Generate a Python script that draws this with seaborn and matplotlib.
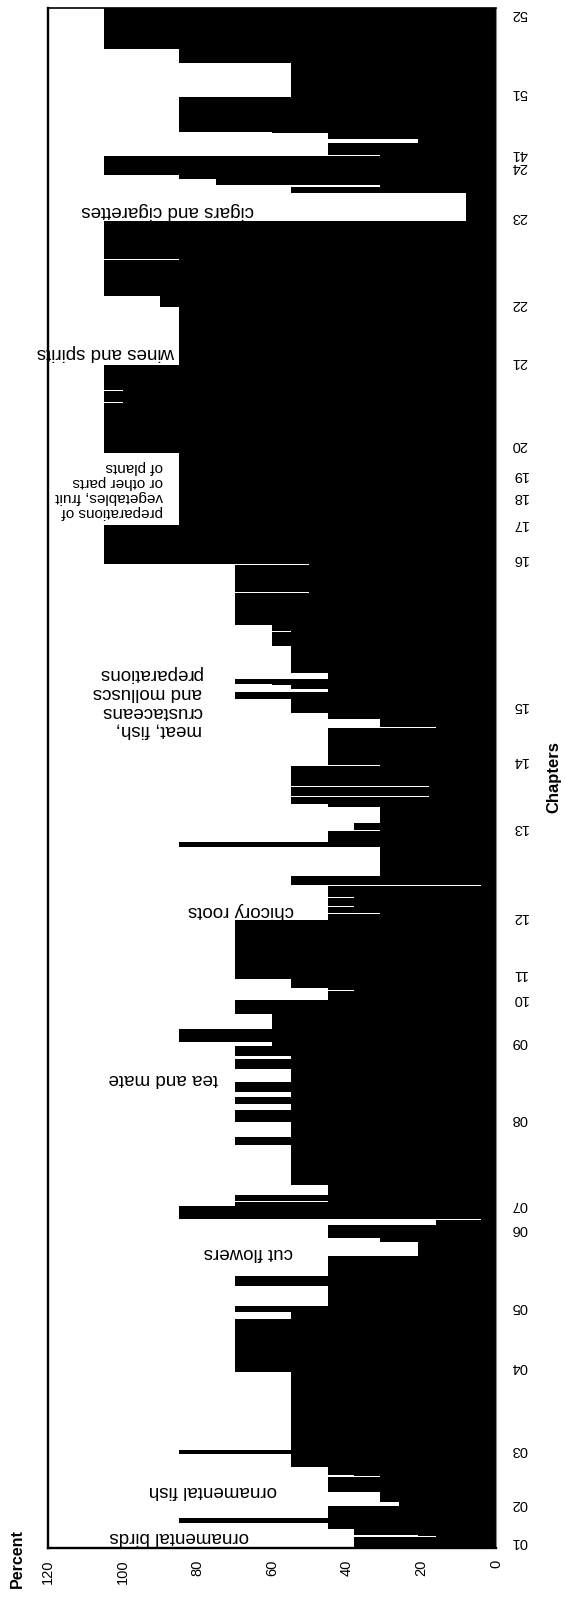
import matplotlib
matplotlib.use("Agg")
import matplotlib.pyplot as plt
import seaborn as sns
import pandas as pd

# tariff lines, bottom (chapter 01) to top (chapter 52): rate in percent, number of lines
seg_rate = [38, 16, 21, 38, 45, 85, 45, 26, 31, 45,
            31, 38, 45, 55, 85, 55, 70, 55, 70, 45,
            70, 45, 21, 31, 45, 16, 4, 85, 70, 45,
            70, 45, 55, 70, 55, 70, 55, 70, 55, 70,
            55, 70, 55, 70, 60, 85, 60, 70, 45, 38,
            45, 55, 70, 45, 31, 45, 38, 45, 38, 45,
            4, 55, 31, 85, 45, 31, 38, 31, 45, 55,
            18, 55, 18, 55, 31, 45, 16, 31, 45, 55,
            70, 45, 55, 60, 70, 45, 55, 60, 55, 60,
            70, 50, 70, 50, 105, 85, 105, 100, 105, 100,
            105, 85, 90, 105, 85, 105, 8, 55, 31, 75,
            85, 105, 31, 45, 21, 45, 60, 85, 55, 85,
            105]
seg_lines = [11, 1, 1, 6, 6, 5, 12, 4, 10, 15,
             1, 1, 8, 13, 4, 78, 53, 7, 6, 20,
             10, 20, 14, 4, 13, 5, 1, 13, 4, 1,
             6, 10, 40, 8, 15, 12, 6, 7, 5, 10,
             13, 10, 3, 10, 4, 13, 15, 14, 9, 1,
             2, 9, 59, 6, 1, 6, 1, 8, 1, 11,
             1, 9, 29, 5, 11, 1, 7, 16, 3, 7,
             1, 9, 1, 20, 1, 38, 1, 8, 6, 14,
             7, 3, 4, 1, 5, 6, 27, 14, 1, 6,
             32, 1, 27, 1, 39, 72, 50, 1, 11, 1,
             25, 58, 11, 36, 1, 38, 28, 6, 2, 6,
             4, 19, 1, 12, 4, 6, 1, 35, 34, 14,
             41]

chapters = ["01", "02", "03", "04", "05", "06", "07", "08", "09", "10",
            "11", "12", "13", "14", "15", "16", "17", "18", "19", "20",
            "21", "22", "23", "24", "41", "51", "52"]
chapter_pos = [7, 46, 100, 183, 243, 321, 345, 431, 508, 551,
               576, 633, 722, 789, 844, 991, 1026, 1053, 1075, 1105,
               1188, 1246, 1333, 1383, 1396, 1457, 1536]

notes = ["ornamental birds", "ornamental fish", "cut flowers", "tea and mate",
         "chicory roots", "wines and spirits", "cigars and cigarettes"]
note_rate = [84.9, 75.8, 66.4, 89.2, 68.3, 104.5, 87.9]
note_line = [11, 58, 296, 470, 638, 1196, 1338]

sns.set_style("white")
plt.rcParams["font.family"] = ["Liberation Sans", "DejaVu Sans"]
plt.rcParams["text.color"] = "black"
plt.rcParams["xtick.color"] = "black"
plt.rcParams["ytick.color"] = "black"
plt.rcParams["xtick.labelcolor"] = "black"
plt.rcParams["ytick.labelcolor"] = "black"

df = pd.DataFrame({"rate": seg_rate, "lines": seg_lines})
df["start"] = df["lines"].cumsum() - df["lines"]
total = df["lines"].sum()

fig = plt.figure(figsize=(5.66, 15.98), dpi=100)
ax = fig.add_axes([0.0848, 0.0313, 0.7915, 0.9637])

ax.barh(df["start"], df["rate"], height=df["lines"], align="edge",
        color="black", linewidth=0)

ax.set_xlim(120, 0)
ax.set_ylim(0, total)

# percent axis (bottom)
ax.set_xticks(range(0, 121, 10))
ax.set_xticklabels([str(v) if v % 20 == 0 else "" for v in range(0, 121, 10)],
                   rotation=90, fontsize=10.5, color="black")
ax.tick_params(axis="x", direction="in", length=6, width=1.2, pad=8.5, colors="black")

# chapters axis (right)
ax.yaxis.tick_right()
ax.set_yticks(chapter_pos)
ax.set_yticklabels(chapters, rotation=180, fontsize=10.5, color="black")
ax.tick_params(axis="y", length=0, pad=11)

for side in ["left", "bottom"]:
    ax.spines[side].set_linewidth(1.7)
    ax.spines[side].set_color("black")
ax.spines["top"].set_linewidth(1.2)
ax.spines["top"].set_color("black")
ax.spines["right"].set_linewidth(0.8)
ax.spines["right"].set_color("#888888")

for s, p, u in zip(notes, note_rate, note_line):
    ax.text(p, u, s, rotation=180, ha="center", va="center", fontsize=13.5,
            color="black")

ax.text(78.8, 847, "meat, fish,\ncrustaceans\nand molluscs\npreparations",
        rotation=180, ha="right", va="center", multialignment="left",
        fontsize=13.5, linespacing=1.15, color="black")
ax.text(89.2, 1059, "preparations of\nvegetables, fruit\nor other parts\nof plants",
        rotation=180, ha="right", va="center", multialignment="left",
        fontsize=11, linespacing=1.1, color="black")

fig.text(17 / 566, 1 - 1559 / 1598, "Percent", rotation=90, ha="center",
         va="center", fontsize=11.5, fontweight="bold", color="black")
fig.text(554 / 566, 1 - 777 / 1598, "Chapters", rotation=90, ha="center",
         va="center", fontsize=12, fontweight="bold", color="black")

fig.savefig("out.png", dpi=100)
